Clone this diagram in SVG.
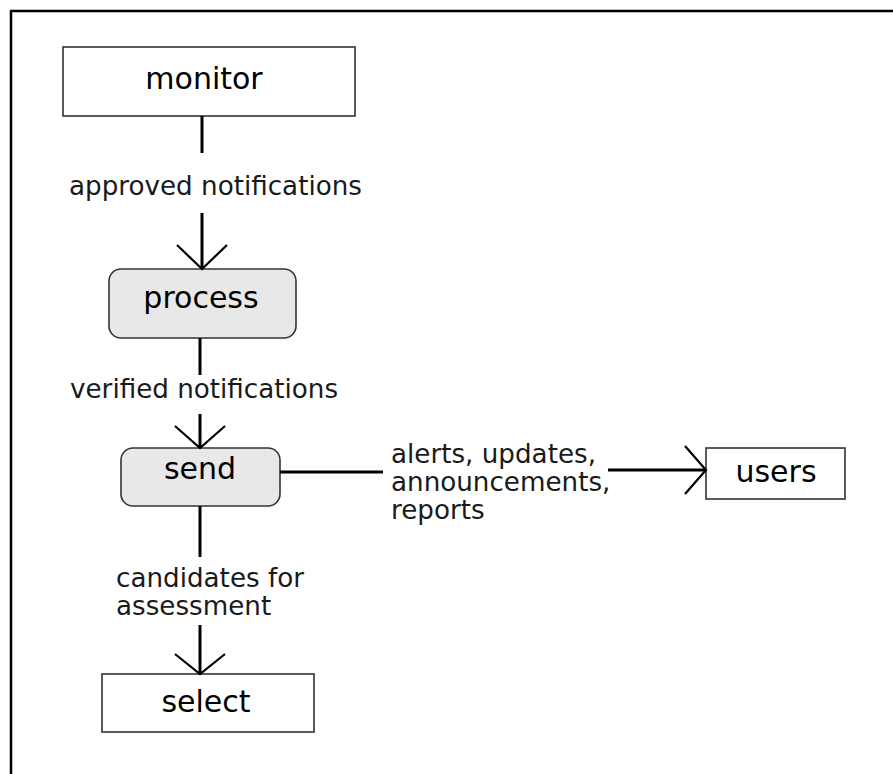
<svg xmlns="http://www.w3.org/2000/svg" width="893" height="774" viewBox="0 0 893 774">
  <style>
    .box { fill: #ffffff; stroke: #333333; stroke-width: 1.6; }
    .soft { fill: #e8e8e8; stroke: #333333; stroke-width: 1.6; }
    .node-label { font-family: "DejaVu Sans", Verdana, sans-serif; font-size: 30px; fill: #000000; text-anchor: middle; }
    .edge-label { font-family: "DejaVu Sans", Verdana, sans-serif; font-size: 26.2px; fill: #1a1a1a; }
    .edge { fill: none; stroke: #000000; stroke-width: 3; }
    .head { fill: none; stroke: #000000; stroke-width: 2.2; }
  </style>

  <rect width="893" height="774" fill="#ffffff"/>
  <!-- outer frame, open at right and bottom edges -->
  <rect x="11" y="11" width="900" height="800" fill="none" stroke="#000000" stroke-width="2.5"/>

  <g id="monitor">
    <rect class="box" x="63" y="47" width="292" height="69"/>
    <text class="node-label" x="204" y="89">monitor</text>
  </g>

  <g id="process">
    <rect class="soft" x="109" y="269" width="187" height="69" rx="12" ry="12"/>
    <text class="node-label" x="201" y="308">process</text>
  </g>

  <g id="send">
    <rect class="soft" x="121" y="448" width="159" height="58" rx="12" ry="12"/>
    <text class="node-label" x="200" y="479">send</text>
  </g>

  <g id="users">
    <rect class="box" x="706" y="448" width="139" height="51"/>
    <text class="node-label" x="776" y="482">users</text>
  </g>

  <g id="select">
    <rect class="box" x="102" y="674" width="212" height="58"/>
    <text class="node-label" x="206" y="712">select</text>
  </g>

  <g id="connectors">
    <!-- monitor -> process -->
    <line class="edge" x1="202" y1="116" x2="202" y2="153"/>
    <line class="edge" x1="202" y1="213" x2="202" y2="269"/>
    <polyline class="head" points="177,245 202,269 227,245"/>
    <text class="edge-label" x="69" y="195">approved notifications</text>

    <!-- process -> send -->
    <line class="edge" x1="200" y1="338" x2="200" y2="375"/>
    <line class="edge" x1="200" y1="414" x2="200" y2="448"/>
    <polyline class="head" points="175,426 200,448 225,426"/>
    <text class="edge-label" x="70" y="398">verified notifications</text>

    <!-- send -> users -->
    <line class="edge" x1="280" y1="472" x2="383" y2="472"/>
    <line class="edge" x1="608" y1="470" x2="706" y2="470"/>
    <polyline class="head" points="685,446 706,470 685,494"/>
    <text class="edge-label" x="391" y="463">alerts, updates,</text>
    <text class="edge-label" x="391" y="491">announcements,</text>
    <text class="edge-label" x="391" y="519">reports</text>

    <!-- send -> select -->
    <line class="edge" x1="200" y1="506" x2="200" y2="557"/>
    <line class="edge" x1="200" y1="625" x2="200" y2="674"/>
    <polyline class="head" points="175,654 200,674 225,654"/>
    <text class="edge-label" x="116" y="587">candidates for</text>
    <text class="edge-label" x="116" y="615">assessment</text>
  </g>
</svg>
